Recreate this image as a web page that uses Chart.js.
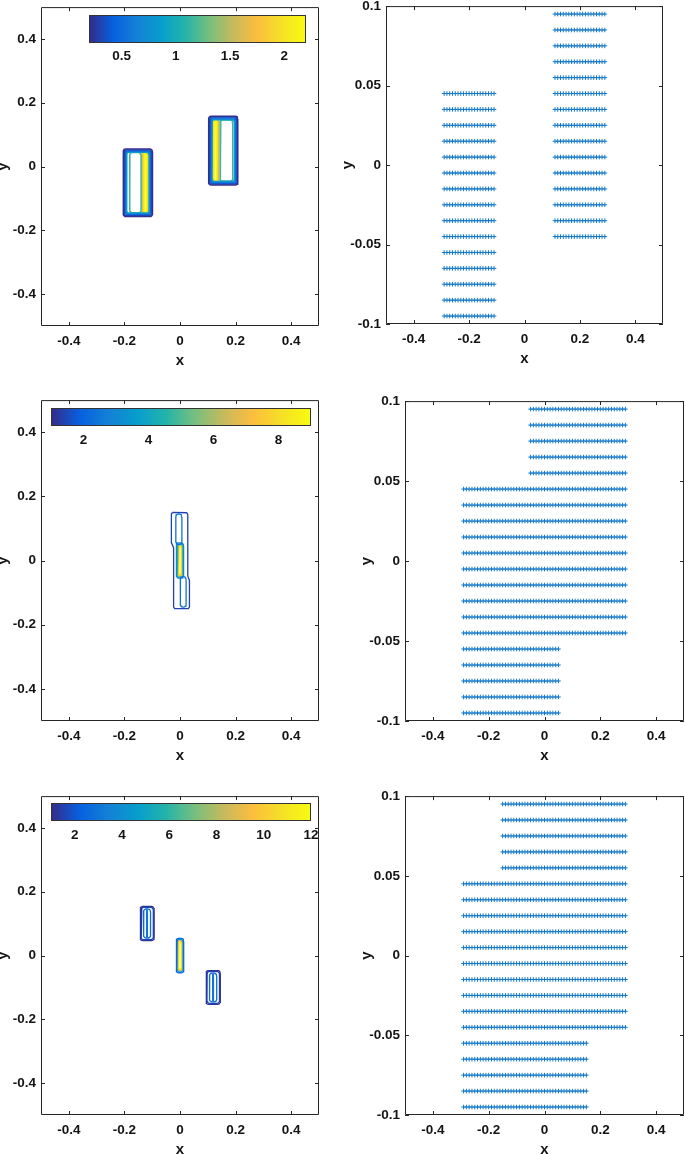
<!DOCTYPE html>
<html>
<head>
<meta charset="utf-8">
<script src="https://cdn.jsdelivr.net/npm/chart.js@4.4.1/dist/chart.umd.min.js"></script>
<style>
  html, body { margin: 0; padding: 0; background: #fff; overflow: hidden; }
  body { width: 685px; height: 1154px; position: relative; }
  canvas { position: absolute; }
</style>
</head>
<body>
<script>
// tick labels
const xTicks = [-0.4, -0.2, 0, 0.2, 0.4];
const yTicksLeft = [-0.4, -0.2, 0, 0.2, 0.4];
const yTicksRight = [-0.1, -0.05, 0, 0.05, 0.1];

// colorbars: value range and ticks
const cbRange1 = [0.2, 2.2], cbTicks1 = [0.5, 1, 1.5, 2];
const cbRange2 = [1, 9], cbTicks2 = [2, 4, 6, 8];
const cbRange3 = [1, 12], cbTicks3 = [2, 4, 6, 8, 10, 12];

// grid of the vector plots (right column)
const gridX = [-0.29, -0.28, -0.27, -0.26, -0.25, -0.24, -0.23, -0.22, -0.21, -0.2,
  -0.19, -0.18, -0.17, -0.16, -0.15, -0.14, -0.13, -0.12, -0.11, -0.1,
  -0.09, -0.08, -0.07, -0.06, -0.05, -0.04, -0.03, -0.02, -0.01, 0,
  0.01, 0.02, 0.03, 0.04, 0.05, 0.06, 0.07, 0.08, 0.09, 0.1,
  0.11, 0.12, 0.13, 0.14, 0.15, 0.16, 0.17, 0.18, 0.19, 0.2,
  0.21, 0.22, 0.23, 0.24, 0.25, 0.26, 0.27, 0.28, 0.29];
const gridY = [0.095, 0.085, 0.075, 0.065, 0.055, 0.045, 0.035, 0.025, 0.015, 0.005,
  -0.005, -0.015, -0.025, -0.035, -0.045, -0.055, -0.065, -0.075, -0.085, -0.095];
// occupied blocks: [xmin, xmax, ymin, ymax]
const blocks1 = [[-0.29, -0.11, -0.095, 0.045], [0.11, 0.29, -0.045, 0.095]];
const blocks2 = [[-0.05, 0.29, 0.055, 0.095], [-0.29, 0.29, -0.045, 0.045], [-0.29, 0.05, -0.095, -0.055]];
const blocks3 = [[-0.15, 0.29, 0.055, 0.095], [-0.29, 0.29, -0.045, 0.045], [-0.29, 0.15, -0.095, -0.055]];

// contour loops (left column): [level, xmin, xmax, ymin, ymax]
const loops1 = [
  [0.22, -0.204, -0.099, -0.157, 0.055],
  [0.35, -0.201, -0.102, -0.154, 0.052],
  [0.50, -0.198, -0.105, -0.151, 0.049],
  [0.70, -0.195, -0.108, -0.148, 0.047],
  [0.90, -0.192, -0.111, -0.146, 0.045],
  [1.15, -0.181, -0.140, -0.145, 0.044],
  [1.60, -0.137, -0.112, -0.147, 0.049],
  [1.90, -0.134, -0.115, -0.146, 0.048],
  [2.10, -0.131, -0.118, -0.144, 0.046],
  [2.18, -0.128, -0.121, -0.142, 0.044],
  [0.22, 0.103, 0.208, -0.058, 0.158],
  [0.35, 0.106, 0.205, -0.055, 0.155],
  [0.50, 0.109, 0.202, -0.052, 0.152],
  [0.70, 0.112, 0.199, -0.049, 0.149],
  [0.90, 0.115, 0.196, -0.047, 0.147],
  [1.15, 0.144, 0.190, -0.045, 0.146],
  [1.60, 0.114, 0.140, -0.050, 0.152],
  [1.90, 0.117, 0.137, -0.049, 0.151],
  [2.10, 0.120, 0.134, -0.047, 0.149],
  [2.18, 0.123, 0.131, -0.045, 0.147]
];
const outerLevel2 = 1.4;
const outerShape2 = [[-0.027, 0.150], [0.024, 0.149], [0.028, 0.144], [0.028, -0.048], [0.034, -0.062],
  [0.034, -0.145], [0.030, -0.150], [-0.019, -0.150], [-0.023, -0.145], [-0.023, 0.040],
  [-0.031, 0.056], [-0.031, 0.145], [-0.027, 0.150]];
const loops2 = [
  [2.4, -0.015, 0.007, 0.050, 0.145],
  [2.4, 0.001, 0.022, -0.145, -0.050],
  [3.0, -0.013, 0.013, -0.055, 0.055],
  [4.5, -0.0105, 0.0105, -0.052, 0.052],
  [7.0, -0.008, 0.008, -0.049, 0.049],
  [8.3, -0.006, 0.006, -0.047, 0.047],
  [8.8, -0.004, 0.004, -0.044, 0.044]
];
const loops3 = [
  [1.2, -0.143, -0.093, 0.047, 0.154],
  [1.7, -0.140, -0.096, 0.050, 0.151],
  [2.6, -0.131, -0.106, 0.055, 0.146],
  [3.0, -0.121, -0.117, 0.058, 0.143],
  [2.6, -0.0135, 0.0135, -0.054, 0.054],
  [4.5, -0.011, 0.011, -0.051, 0.051],
  [9.0, -0.0085, 0.0085, -0.048, 0.048],
  [11.0, -0.0065, 0.0065, -0.046, 0.046],
  [11.8, -0.0045, 0.0045, -0.044, 0.044],
  [1.2, 0.094, 0.145, -0.153, -0.047],
  [1.7, 0.097, 0.142, -0.150, -0.050],
  [2.6, 0.106, 0.132, -0.145, -0.055],
  [3.0, 0.117, 0.121, -0.142, -0.058]
];

// parula colour map
const parulaStops = [
  [53, 42, 135], [8, 96, 224], [20, 129, 214], [7, 158, 205], [37, 180, 169],
  [120, 191, 125], [200, 186, 92], [252, 190, 61], [245, 225, 38], [249, 251, 14]
];
function parula(t) {
  t = Math.max(0, Math.min(1, t));
  const f = t * (parulaStops.length - 1), i = Math.min(Math.floor(f), parulaStops.length - 2), u = f - i;
  const a = parulaStops[i], b = parulaStops[i + 1];
  return 'rgb(' + a.map((c, k) => Math.round(c + (b[k] - c) * u)).join(',') + ')';
}

const tickFont = { family: "'Liberation Sans', Arial, sans-serif", size: 13.5, weight: 'bold' };
const titleFont = { family: "'Liberation Sans', Arial, sans-serif", size: 15, weight: 'bold' };
const ink = '#141414';

function loopPoints(x0, x1, y0, y1) {
  const rx = Math.min(0.009, (x1 - x0) / 2), ry = Math.min(0.009, (y1 - y0) / 2);
  const corners = [[x1 - rx, y1 - ry, 0], [x0 + rx, y1 - ry, 90], [x0 + rx, y0 + ry, 180], [x1 - rx, y0 + ry, 270]];
  const pts = [];
  corners.forEach(([cx, cy, a0]) => {
    for (let k = 0; k <= 4; k++) {
      const a = (a0 + k * 22.5) * Math.PI / 180;
      pts.push({ x: cx + rx * Math.cos(a), y: cy + ry * Math.sin(a) });
    }
  });
  pts.push(pts[0]);
  return pts;
}

function contourSets(loops, range, width) {
  return loops.map(([lev, x0, x1, y0, y1]) => ({
    data: loopPoints(x0, x1, y0, y1),
    showLine: true, pointRadius: 0, fill: false,
    borderColor: parula((lev - range[0]) / (range[1] - range[0])),
    borderWidth: width, borderJoinStyle: 'round'
  }));
}

function quiverSet(blocks) {
  const pts = [];
  blocks.forEach(([x0, x1, y0, y1]) => {
    gridY.filter(y => y >= y0 - 1e-9 && y <= y1 + 1e-9).forEach(y => {
      gridX.filter(x => x >= x0 - 1e-9 && x <= x1 + 1e-9).forEach(x => pts.push({ x, y }));
    });
  });
  return [{
    data: pts, pointStyle: 'cross', pointRadius: 2.3, pointBorderWidth: 1,
    pointBorderColor: 'rgb(20,120,200)', pointBackgroundColor: 'rgb(20,120,200)'
  }];
}

// box with inward ticks on all four sides
const boxPlugin = {
  id: 'boxTicks',
  afterDatasetsDraw(chart) {
    const { ctx, chartArea: a, scales: { x, y } } = chart;
    ctx.save();
    ctx.strokeStyle = '#262626';
    ctx.lineWidth = 1;
    ctx.beginPath();
    ctx.rect(a.left + 0.5, a.top + 0.5, a.right - a.left - 1, a.bottom - a.top - 1);
    x.ticks.forEach(t => {
      const px = Math.round(x.getPixelForValue(t.value)) + 0.5;
      ctx.moveTo(px, a.bottom); ctx.lineTo(px, a.bottom - 4);
      ctx.moveTo(px, a.top); ctx.lineTo(px, a.top + 4);
    });
    y.ticks.forEach(t => {
      const py = Math.round(y.getPixelForValue(t.value)) + 0.5;
      ctx.moveTo(a.left, py); ctx.lineTo(a.left + 4, py);
      ctx.moveTo(a.right, py); ctx.lineTo(a.right - 4, py);
    });
    ctx.stroke();
    ctx.restore();
  }
};

function panel(box, yRange, yTicks, datasets) {
  const W = 50, T = 12, R = 14, H = 45;
  const cv = document.createElement('canvas');
  cv.width = box[2] - box[0] + W + R;
  cv.height = box[3] - box[1] + T + H;
  cv.style.left = (box[0] - W) + 'px';
  cv.style.top = (box[1] - T) + 'px';
  document.body.appendChild(cv);
  new Chart(cv, {
    type: 'scatter',
    data: { datasets },
    options: {
      responsive: false, animation: false, events: [],
      layout: { padding: { top: T, right: R, left: 0, bottom: 0 } },
      plugins: { legend: { display: false }, tooltip: { enabled: false } },
      scales: {
        x: {
          type: 'linear', min: -0.5, max: 0.5,
          afterFit(s) { s.height = H; },
          afterBuildTicks(s) { s.ticks = xTicks.map(v => ({ value: v })); },
          grid: { display: false, drawTicks: false }, border: { display: false },
          ticks: { padding: 7, font: tickFont, color: ink, maxRotation: 0, callback: v => String(v) },
          title: { display: true, text: 'x', font: titleFont, color: ink, padding: { top: 0, bottom: 1 } }
        },
        y: {
          type: 'linear', min: yRange[0], max: yRange[1],
          afterFit(s) { s.width = W; },
          afterBuildTicks(s) { s.ticks = yTicks.map(v => ({ value: v })); },
          grid: { display: false, drawTicks: false }, border: { display: false },
          ticks: { padding: 5, font: tickFont, color: ink, callback: v => String(v) },
          title: { display: true, text: 'y', font: titleFont, color: ink, padding: { top: 3, bottom: 0 } }
        }
      }
    },
    plugins: [boxPlugin]
  });
}

const gradientPlugin = {
  id: 'gradient',
  beforeDatasetsDraw(chart) {
    const { ctx, chartArea: a } = chart;
    const g = ctx.createLinearGradient(a.left, 0, a.right, 0);
    parulaStops.forEach((c, i) => g.addColorStop(i / (parulaStops.length - 1), 'rgb(' + c.join(',') + ')'));
    ctx.save();
    ctx.fillStyle = g;
    ctx.fillRect(a.left, a.top, a.right - a.left, a.bottom - a.top);
    ctx.strokeStyle = '#333';
    ctx.lineWidth = 1;
    ctx.strokeRect(a.left + 0.5, a.top + 0.5, a.right - a.left - 1, a.bottom - a.top - 1);
    ctx.restore();
  }
};

function colorbar(bar, range, ticks, pad) {
  const P = 22, H = 26;
  const cv = document.createElement('canvas');
  cv.width = bar[2] - bar[0] + 2 * P;
  cv.height = bar[3] - bar[1] + H;
  cv.style.left = (bar[0] - P) + 'px';
  cv.style.top = bar[1] + 'px';
  document.body.appendChild(cv);
  new Chart(cv, {
    type: 'scatter',
    data: { datasets: [] },
    options: {
      responsive: false, animation: false, events: [],
      layout: { padding: { left: P, right: P, top: 0, bottom: 0 } },
      plugins: { legend: { display: false }, tooltip: { enabled: false } },
      scales: {
        x: {
          type: 'linear', min: range[0], max: range[1],
          afterFit(s) { s.height = H; },
          afterBuildTicks(s) { s.ticks = ticks.map(v => ({ value: v })); },
          grid: { display: false, drawTicks: false }, border: { display: false },
          ticks: { padding: pad, font: tickFont, color: ink, maxRotation: 0, callback: v => String(v) }
        },
        y: { display: false, min: 0, max: 1 }
      }
    },
    plugins: [gradientPlugin]
  });
}

// left column: contour plots
panel([41, 6, 319, 326], [-0.5, 0.5], yTicksLeft, contourSets(loops1, cbRange1, 1.5));
panel([41, 399, 319, 721], [-0.5, 0.5], yTicksLeft, [{
  data: outerShape2.map(([x, y]) => ({ x, y })), showLine: true, pointRadius: 0, fill: false,
  borderColor: parula((outerLevel2 - cbRange2[0]) / (cbRange2[1] - cbRange2[0])), borderWidth: 1.3
}].concat(contourSets(loops2, cbRange2, 1.3)));
panel([41, 795, 319, 1115], [-0.5, 0.5], yTicksLeft, contourSets(loops3, cbRange3, 1.3));

colorbar([89, 15, 306, 43], cbRange1, cbTicks1, 5);
colorbar([51, 408, 311, 426], cbRange2, cbTicks2, 6);
colorbar([51, 803, 311, 821], cbRange3, cbTicks3, 6);

// right column: vector plots
panel([386, 5, 663, 324], [-0.1, 0.1], yTicksRight, quiverSet(blocks1));
panel([405, 400, 684, 721], [-0.1, 0.1], yTicksRight, quiverSet(blocks2));
panel([405, 795, 684, 1115], [-0.1, 0.1], yTicksRight, quiverSet(blocks3));
</script>
</body>
</html>
